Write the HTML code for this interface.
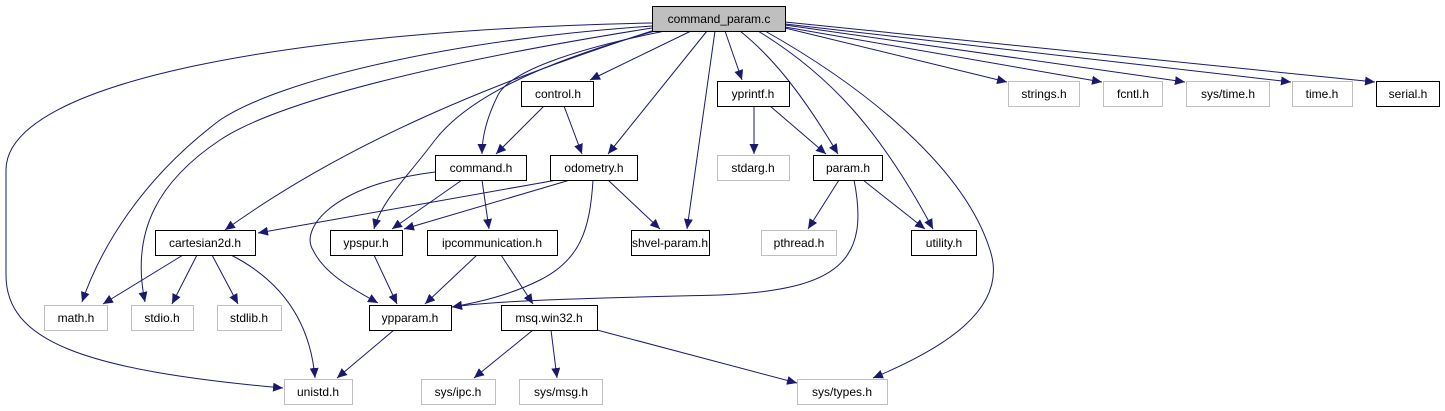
<!DOCTYPE html>
<html><head><meta charset="utf-8"><style>
body{margin:0;background:#fff}
svg{display:block}
text{font-family:"Liberation Sans",sans-serif;font-size:12px;fill:#000}
</style></head><body>
<svg width="1445" height="411" viewBox="0 0 1445 411" xmlns="http://www.w3.org/2000/svg">
<defs>
<marker id="a" markerUnits="userSpaceOnUse" markerWidth="11" markerHeight="9" refX="10" refY="4.5" orient="auto">
<path d="M0,0 L10,4.5 L0,9 z" fill="#191970"/>
</marker>
</defs>
<g fill="none" stroke="#191970" stroke-width="1" marker-end="url(#a)">
<path d="M652,23 C300,30 6,80 6,170 L6,275 C6,340 80,370 283,388"/>
<path d="M652,26 C450,40 280,80 220,120 C140,180 100,250 82,302"/>
<path d="M652,28 C450,60 280,100 220,140 C160,180 130,230 145,302"/>
<path d="M655,30 C500,80 350,140 225,230"/>
<path d="M665,31 C570,50 510,72 498,95 C488,115 482,135 482,154"/>
<path d="M655,31 C550,60 470,95 435,140 C405,180 382,200 374,229"/>
<path d="M691,31 L590,80"/>
<path d="M707,31 L608,154"/>
<path d="M715,31 L687,229"/>
<path d="M725,31 L742,80"/>
<path d="M740,31 C770,55 800,90 838,154"/>
<path d="M758,31 C830,75 880,130 933,229"/>
<path d="M765,31 C870,90 965,170 990,250 C1010,310 940,350 873,378"/>
<path d="M785,28 L1007,82"/>
<path d="M785,27 L1102,82"/>
<path d="M785,25 L1185,82"/>
<path d="M785,24 L1291,82"/>
<path d="M785,22 L1375,82"/>
<path d="M544,106 L496,154"/>
<path d="M564,106 L582,154"/>
<path d="M754,106 L754,154"/>
<path d="M770,106 L826,154"/>
<path d="M462,180 L392,229"/>
<path d="M482,180 L489,229"/>
<path d="M435,172 C330,185 300,230 313,250 C325,275 355,290 378,303"/>
<path d="M557,180 L258,233"/>
<path d="M570,180 L404,229"/>
<path d="M608,180 L660,229"/>
<path d="M593,180 C590,230 580,260 540,280 C510,295 480,302 452,307"/>
<path d="M854,180 C870,260 840,290 720,295 C600,298 500,300 452,307"/>
<path d="M839,180 L808,229"/>
<path d="M863,180 L925,229"/>
<path d="M183,255 L103,304"/>
<path d="M197,255 L172,304"/>
<path d="M212,255 L238,304"/>
<path d="M231,255 C280,280 310,320 315,378"/>
<path d="M374,255 L397,304"/>
<path d="M477,255 L425,304"/>
<path d="M501,255 L533,304"/>
<path d="M394,330 L337,378"/>
<path d="M533,330 L474,378"/>
<path d="M551,330 L557,378"/>
<path d="M597,330 L797,383"/>
</g>
<g stroke-width="1">
<rect x="652.5" y="6.5" width="133" height="25" fill="#bfbfbf" stroke="#000"/>
<g fill="#fff" stroke="#000">
<rect x="521.5" y="81.5" width="72" height="25"/>
<rect x="717.5" y="81.5" width="72" height="25"/>
<rect x="1376.5" y="81.5" width="63" height="25"/>
<rect x="435.5" y="155.5" width="91" height="25"/>
<rect x="550.5" y="155.5" width="87" height="25"/>
<rect x="813.5" y="155.5" width="69" height="25"/>
<rect x="155.5" y="230.5" width="100" height="25"/>
<rect x="330.5" y="230.5" width="72" height="25"/>
<rect x="427.5" y="230.5" width="130" height="25"/>
<rect x="631.5" y="230.5" width="78" height="25"/>
<rect x="911.5" y="230.5" width="65" height="25"/>
<rect x="369.5" y="305.5" width="82" height="25"/>
<rect x="501.5" y="305.5" width="96" height="25"/>
</g>
<g fill="#fff" stroke="#bfbfbf">
<rect x="1008.5" y="81.5" width="71" height="25"/>
<rect x="1103.5" y="81.5" width="59" height="25"/>
<rect x="1186.5" y="81.5" width="83" height="25"/>
<rect x="1292.5" y="81.5" width="60" height="25"/>
<rect x="717.5" y="155.5" width="72" height="25"/>
<rect x="761.5" y="230.5" width="75" height="25"/>
<rect x="44.5" y="305.5" width="63" height="25"/>
<rect x="131.5" y="305.5" width="62" height="25"/>
<rect x="217.5" y="305.5" width="64" height="25"/>
<rect x="284.5" y="379.5" width="68" height="25"/>
<rect x="421.5" y="379.5" width="74" height="25"/>
<rect x="519.5" y="379.5" width="83" height="25"/>
<rect x="797.5" y="379.5" width="90" height="25"/>
</g>
</g>
<g text-anchor="middle">
<text x="719" y="23">command_param.c</text>
<text x="558" y="98">control.h</text>
<text x="753" y="98">yprintf.h</text>
<text x="1408" y="98">serial.h</text>
<text x="1044" y="98">strings.h</text>
<text x="1133" y="98">fcntl.h</text>
<text x="1228" y="98">sys/time.h</text>
<text x="1322" y="98">time.h</text>
<text x="481" y="172">command.h</text>
<text x="594" y="172">odometry.h</text>
<text x="753" y="172">stdarg.h</text>
<text x="848" y="172">param.h</text>
<text x="205" y="247">cartesian2d.h</text>
<text x="366" y="247">ypspur.h</text>
<text x="492" y="247">ipcommunication.h</text>
<text x="670" y="247">shvel-param.h</text>
<text x="799" y="247">pthread.h</text>
<text x="944" y="247">utility.h</text>
<text x="76" y="322">math.h</text>
<text x="162" y="322">stdio.h</text>
<text x="249" y="322">stdlib.h</text>
<text x="410" y="322">ypparam.h</text>
<text x="549" y="322">msq.win32.h</text>
<text x="318" y="396">unistd.h</text>
<text x="458" y="396">sys/ipc.h</text>
<text x="561" y="396">sys/msg.h</text>
<text x="842" y="396">sys/types.h</text>
</g>
</svg>
</body></html>
